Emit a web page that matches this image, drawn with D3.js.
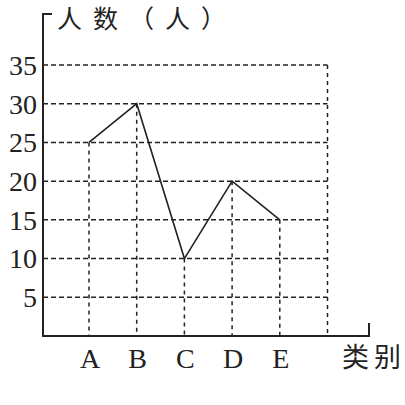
<!DOCTYPE html>
<html><head><meta charset="utf-8">
<script src="https://cdn.jsdelivr.net/npm/d3@7"></script>
<style>body{margin:0;background:#fff}svg{display:block}</style>
</head><body>
<svg id="c" width="405" height="405"></svg>
<script>
const categories = ["A","B","C","D","E"];
const values = [25,30,10,20,15];
const yTicks = [5,10,15,20,25,30,35];
const yTitle = "人数（人）";
const xTitle = "类别";

const svg = d3.select("#c");
const x = d3.scaleLinear().domain([0,5]).range([89,327.5]);
const y = d3.scaleLinear().domain([0,35]).range([336,65]);
const x0 = 43, xEnd = 369;
const ink = "#222";
const serif = "'Liberation Serif', 'Times New Roman', 'DejaVu Serif', serif";

svg.append("g").selectAll("line").data(yTicks).join("line")
  .attr("x1", x0).attr("x2", x(5)).attr("y1", d=>y(d)).attr("y2", d=>y(d))
  .attr("stroke", ink).attr("stroke-width", 1.5).attr("stroke-dasharray", "5,3");
svg.append("g").selectAll("line").data(values).join("line")
  .attr("x1", (d,i)=>x(i)).attr("x2", (d,i)=>x(i)).attr("y1", d=>y(d)).attr("y2", y(0))
  .attr("stroke", ink).attr("stroke-width", 1.5).attr("stroke-dasharray", "4,4");
svg.append("line").attr("x1", x(5)).attr("x2", x(5)).attr("y1", y(35)).attr("y2", y(0))
  .attr("stroke", ink).attr("stroke-width", 1.5).attr("stroke-dasharray", "4,4");

svg.append("path").attr("d", `M${x0+9},14 H${x0} V${y(0)} H${xEnd} V${y(0)-13}`)
  .attr("fill","none").attr("stroke", ink).attr("stroke-width", 2);

svg.append("path").datum(values)
  .attr("d", d3.line().x((d,i)=>x(i)).y(d=>y(d)))
  .attr("fill","none").attr("stroke", ink).attr("stroke-width", 1.6);

svg.append("g").selectAll("text").data(yTicks).join("text")
  .attr("x", 37).attr("y", d=>y(d)).attr("dy","0.35em")
  .attr("text-anchor","end")
  .style("font-family", serif).attr("font-size",28).attr("fill", ink)
  .text(d=>d);
svg.append("g").selectAll("text").data(categories).join("text")
  .attr("x", (d,i)=>x(i)+1).attr("y", 368)
  .attr("text-anchor","middle")
  .style("font-family", serif).attr("font-size",28).attr("fill", ink)
  .text(d=>d);

svg.append("text").attr("x", 57).attr("y", 28)
  .style("font-family","'Noto Sans CJK SC', sans-serif").attr("font-size",25).attr("letter-spacing",11)
  .attr("fill", ink).text(yTitle);
svg.append("text").attr("x", 342).attr("y", 367)
  .style("font-family","'Noto Sans CJK SC', sans-serif").attr("font-size",27).attr("letter-spacing",5)
  .attr("fill", ink).text(xTitle);
</script>
</body></html>
